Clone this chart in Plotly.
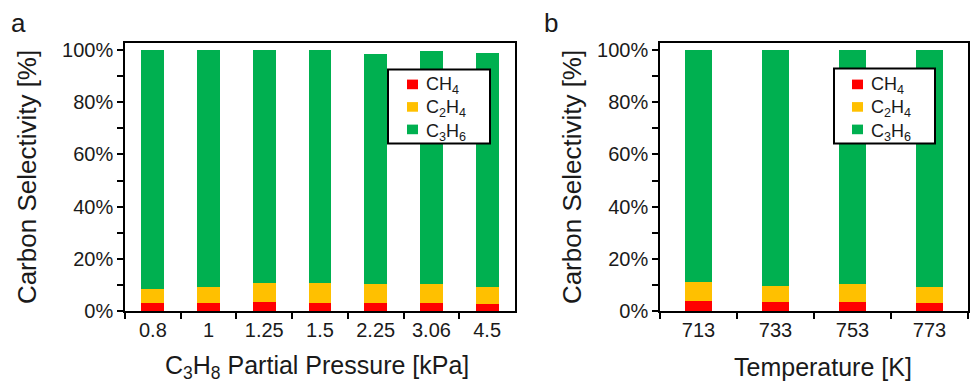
import plotly.graph_objects as go

pressure_labels = ["0.8", "1", "1.25", "1.5", "2.25", "3.06", "4.5"]
a_ch4 = [3.3, 3.3, 3.7, 3.3, 3.3, 3.3, 2.9]
a_c2h4 = [5.2, 6.0, 7.0, 7.4, 7.1, 7.1, 6.4]
a_c3h6 = [91.5, 90.7, 89.3, 89.3, 88.1, 89.2, 89.6]

temp_labels = ["713", "733", "753", "773"]
b_ch4 = [4.0, 3.5, 3.5, 3.0]
b_c2h4 = [7.1, 6.0, 6.8, 6.1]
b_c3h6 = [88.9, 90.5, 89.7, 90.9]

y_tickvals = [0, 20, 40, 60, 80, 100]
y_ticktext = ["0%", "20%", "40%", "60%", "80%", "100%"]

series_names = ["CH<sub>4</sub>", "C<sub>2</sub>H<sub>4</sub>", "C<sub>3</sub>H<sub>6</sub>"]
colors = ["#FF0000", "#FFC000", "#00B050"]

FONT = "Arial, Liberation Sans, sans-serif"
TXT = "#1a1a1a"

W, H = 972, 392


def px(x):
    return min(1.0, max(0.0, x / W))


def py(y):
    return min(1.0, max(0.0, 1 - y / H))


fig = go.Figure()
for name, col, vals in zip(series_names, colors, [a_ch4, a_c2h4, a_c3h6]):
    fig.add_trace(go.Bar(x=pressure_labels, y=vals, name=name, marker=dict(color=col, line=dict(width=0)),
                         width=0.41, xaxis="x", yaxis="y", showlegend=False))
for name, col, vals in zip(series_names, colors, [b_ch4, b_c2h4, b_c3h6]):
    fig.add_trace(go.Bar(x=temp_labels, y=vals, name=name, marker=dict(color=col, line=dict(width=0)),
                         width=0.34, xaxis="x2", yaxis="y2", showlegend=False))

ydom = [py(319.5), py(41)]
yax = dict(range=[0, 102.5], tickmode="array", tickvals=y_tickvals, ticktext=y_ticktext,
           ticks="outside", ticklen=6, tickwidth=1.5, tickcolor="black",
           minor=dict(tickvals=[10, 30, 50, 70, 90], ticks="outside", ticklen=6, tickwidth=1.5, tickcolor="black"),
           showline=True, linecolor="black", linewidth=1.5, mirror=True, showgrid=False, zeroline=False,
           tickfont=dict(size=20, color=TXT), domain=ydom)
xax = dict(type="category", tickson="boundaries", ticks="outside", ticklen=6, tickwidth=1.5, tickcolor="black",
           showline=True, linecolor="black", linewidth=1.5, mirror=True, showgrid=False,
           tickfont=dict(size=20, color=TXT))

shapes = []
annotations = [
    dict(text="a", x=px(9), y=py(20), xanchor="left", yanchor="middle", font=dict(size=26, color=TXT)),
    dict(text="b", x=px(542), y=py(20), xanchor="left", yanchor="middle", font=dict(size=26, color=TXT)),
    dict(text="Carbon Selectivity [%]", x=px(27), y=py(180), textangle=-90,
         xanchor="center", yanchor="middle", font=dict(size=26, color=TXT)),
    dict(text="Carbon Selectivity [%]", x=px(572), y=py(180), textangle=-90,
         xanchor="center", yanchor="middle", font=dict(size=26, color=TXT)),
    dict(text="C<sub>3</sub>H<sub>8</sub> Partial Pressure [kPa]", x=px(317), y=py(377),
         xanchor="center", yanchor="middle", font=dict(size=25, color=TXT)),
    dict(text="Temperature [K]", x=px(823), y=py(377),
         xanchor="center", yanchor="middle", font=dict(size=25, color=TXT)),
]

# hand-drawn legend boxes (window pixels): box, symbol x, text x, row centres
LEG_FONT = 18
ROW = 1.3 * LEG_FONT
legend_boxes = [
    dict(box=(388, 68, 490, 145), sym_x=407, txt_x=424, mid=107),
    dict(box=(834, 67, 935, 145), sym_x=852, txt_x=869, mid=107),
]
for lb in legend_boxes:
    x0, y0, x1, y1 = lb["box"]
    shapes.append(dict(type="rect", xref="paper", yref="paper", x0=px(x0), x1=px(x1), y0=py(y1), y1=py(y0),
                       line=dict(color="black", width=2), fillcolor="white", layer="above"))
    for i, col in enumerate(colors):
        yc = lb["mid"] + (i - 1) * ROW
        shapes.append(dict(type="rect", xref="paper", yref="paper",
                           x0=px(lb["sym_x"]), x1=px(lb["sym_x"] + 11), y0=py(yc + 5), y1=py(yc - 5),
                           line=dict(width=0), fillcolor=col, layer="above"))
    annotations.append(dict(text="<br>".join(series_names), x=px(lb["txt_x"]), y=py(lb["mid"] + 2),
                            xanchor="left", yanchor="middle", align="left",
                            font=dict(size=LEG_FONT, color=TXT)))

for a in annotations:
    a.update(xref="paper", yref="paper", showarrow=False)

fig.update_layout(
    width=W, height=H, margin=dict(l=0, r=0, t=0, b=0),
    paper_bgcolor="white", plot_bgcolor="white",
    font=dict(family=FONT, color=TXT),
    barmode="stack", hovermode=False, showlegend=False,
    xaxis=dict(xax, domain=[px(125), px(515)], anchor="y"),
    yaxis=dict(yax, anchor="x"),
    xaxis2=dict(xax, domain=[px(660), px(968)], anchor="y2"),
    yaxis2=dict(yax, anchor="x2"),
    shapes=shapes,
    annotations=annotations,
)

# remove the default 8px page margin so the 972x392 figure fills the window exactly
fig.write_html("out.html", config={"displayModeBar": False},
               post_script="document.body.style.margin='0';")
